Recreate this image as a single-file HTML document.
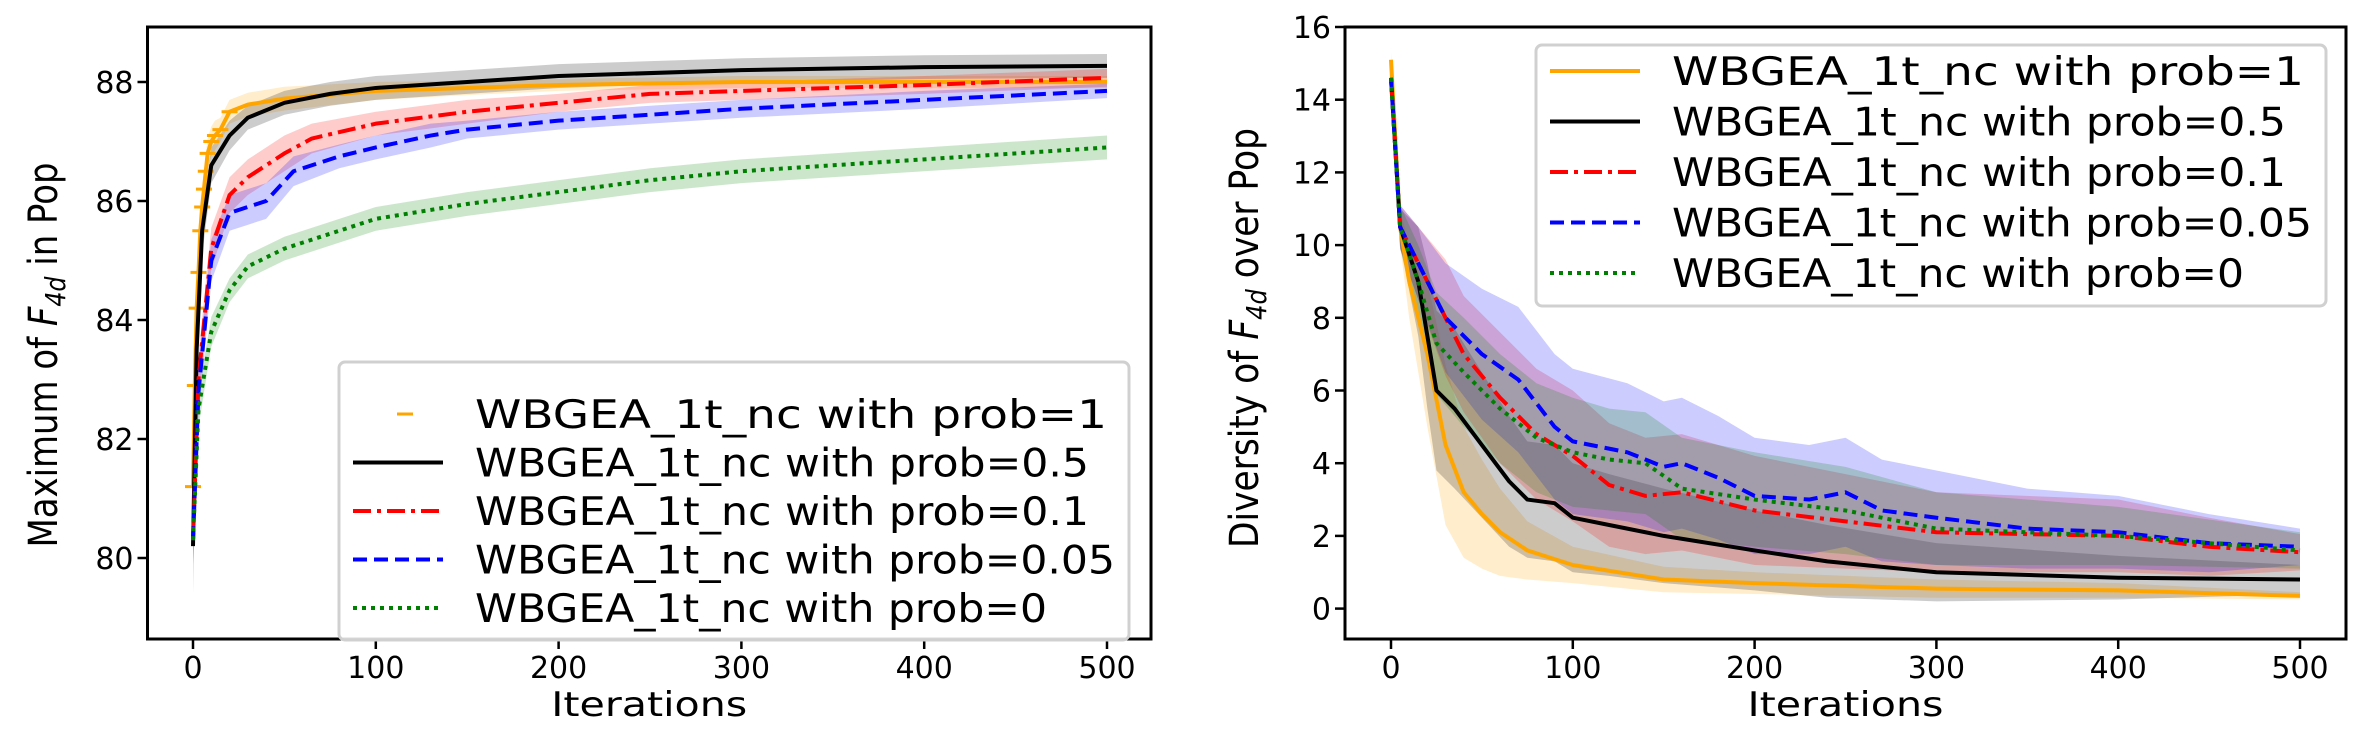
<!DOCTYPE html>
<html><head><meta charset="utf-8"><style>
html,body{margin:0;padding:0;background:#fff}
svg{display:block}
text{font-family:"DejaVu Sans","Liberation Sans",sans-serif;fill:#000}
</style></head><body>
<svg id="fig" width="2363" height="739" viewBox="0 0 2363 739" xmlns="http://www.w3.org/2000/svg">
<g id="left"></g>
<g id="right"></g>
</svg>
<script>
// ---------- LEFT CHART DATA ----------
const leftXTicks = [0,100,200,300,400,500];
const leftYTicks = [80,82,84,86,88];
const lX_p1 = [0,1,2,3,4,5,6,7,8,10,12,15,20,30,50,100,150,200,300,400,500];
const lY_p1 = [81.2,82.9,84.2,84.8,85.5,85.9,86.2,86.5,86.8,87.0,87.1,87.2,87.5,87.62,87.72,87.85,87.9,87.95,88.0,88.0,88.0];
const lS_p1 = [0.3,0.3,0.3,0.3,0.3,0.3,0.3,0.3,0.25,0.25,0.25,0.2,0.2,0.2,0.2,0.15,0.12,0.1,0.1,0.1,0.1];
const lX_p05 = [0,2,5,10,20,30,50,75,100,150,200,300,400,500];
const lY_p05 = [80.2,83.5,85.5,86.6,87.1,87.4,87.65,87.8,87.9,88.0,88.1,88.2,88.25,88.27];
const lS_p05 = [0.8,0.5,0.4,0.3,0.25,0.2,0.2,0.2,0.2,0.2,0.2,0.2,0.2,0.2];
const lX_p01 = [0,3,10,20,30,50,65,100,150,200,250,300,400,500];
const lY_p01 = [80.3,83.0,85.2,86.1,86.4,86.8,87.05,87.3,87.5,87.65,87.8,87.85,87.95,88.07];
const lS_p01 = [0.4,0.4,0.35,0.3,0.3,0.3,0.25,0.2,0.2,0.15,0.15,0.15,0.15,0.15];
const lX_p005 = [0,3,10,20,40,55,80,100,130,150,200,250,300,400,500];
const lY_p005 = [80.3,82.8,85.0,85.8,86.0,86.5,86.75,86.9,87.1,87.2,87.35,87.45,87.55,87.7,87.85];
const lS_p005 = [0.4,0.4,0.35,0.3,0.3,0.25,0.2,0.2,0.2,0.15,0.15,0.15,0.15,0.15,0.12];
const lX_p0 = [0,3,10,20,30,50,80,100,150,200,250,300,400,500];
const lY_p0 = [80.3,82.5,83.8,84.5,84.9,85.2,85.5,85.7,85.95,86.15,86.35,86.5,86.7,86.9];
const lS_p0 = [0.3,0.3,0.25,0.2,0.2,0.2,0.2,0.2,0.2,0.2,0.2,0.2,0.2,0.2];

// ---------- RIGHT CHART DATA ----------
const rightXTicks = [0,100,200,300,400,500];
const rightYTicks = [0,2,4,6,8,10,12,14,16];
const rX_p1 = [0,5,10,20,30,40,50,60,75,100,150,200,300,400,500];
const rY_p1 = [15.1,10.5,9.0,7.0,4.5,3.2,2.6,2.1,1.6,1.2,0.8,0.7,0.55,0.5,0.35];
const rS_p1 = [0.2,0.5,1.0,2.0,2.2,1.8,1.5,1.2,0.8,0.5,0.35,0.3,0.25,0.2,0.1];
const rX_p05 = [0,5,15,20,25,35,50,65,75,90,100,120,150,200,240,300,400,500];
const rY_p05 = [14.6,10.5,9.0,7.5,6.0,5.5,4.5,3.5,3.0,2.9,2.5,2.3,2.0,1.6,1.3,1.0,0.85,0.8];
const rS_p05 = [0.2,0.5,1.5,2.0,2.2,2.2,2.0,1.8,1.6,1.6,1.5,1.4,1.3,1.1,1.0,0.8,0.6,0.4];
const rX_p01 = [0,5,15,30,40,60,80,100,120,140,160,200,250,300,400,450,500];
const rY_p01 = [14.6,10.5,9.5,8.0,7.0,5.8,4.8,4.2,3.4,3.1,3.2,2.7,2.4,2.1,2.0,1.7,1.55];
const rS_p01 = [0.2,0.6,1.0,1.6,1.6,1.8,1.8,1.8,1.7,1.6,1.6,1.5,1.3,1.1,1.0,0.8,0.5];
const rX_p005 = [0,5,15,30,50,70,90,100,130,150,160,180,200,230,250,270,300,350,400,450,500];
const rY_p005 = [14.6,10.5,9.5,8.0,7.0,6.3,5.0,4.6,4.3,3.9,4.0,3.6,3.1,3.0,3.2,2.7,2.5,2.2,2.1,1.8,1.7];
const rS_p005 = [0.2,0.6,1.0,1.5,1.8,2.0,2.0,2.0,1.9,1.8,1.8,1.7,1.6,1.5,1.5,1.4,1.3,1.1,1.0,0.8,0.5];
const rX_p0 = [0,5,15,25,40,60,80,100,120,140,160,200,250,300,400,500];
const rY_p0 = [14.6,10.5,9.0,7.3,6.5,5.5,4.7,4.3,4.1,4.0,3.3,3.0,2.7,2.2,2.0,1.6];
const rS_p0 = [0.2,0.6,1.0,1.4,1.5,1.5,1.5,1.5,1.4,1.4,1.4,1.3,1.2,1.0,0.8,0.5];
const legendLabels = ["WBGEA_1t_nc with prob=1","WBGEA_1t_nc with prob=0.5","WBGEA_1t_nc with prob=0.1","WBGEA_1t_nc with prob=0.05","WBGEA_1t_nc with prob=0"];

const NS = "http://www.w3.org/2000/svg";
function mk(tag, attrs, parent){
  const e = document.createElementNS(NS, tag);
  for (const k in attrs) e.setAttribute(k, attrs[k]);
  parent.appendChild(e); return e;
}
const styles = [
  {c:"#ffa500", dash:"", band:"#ffa500"},
  {c:"#000000", dash:"", band:"#000000"},
  {c:"#ff0000", dash:"18,6,4,6", band:"#ff0000"},
  {c:"#0000ff", dash:"14,7", band:"#0000ff"},
  {c:"#008000", dash:"4,5", band:"#008000"}
];
const widths = [632,614,614,640,572];

function drawChart(g, cfg){
  const sx = v => cfg.x0 + (v - 0) * (cfg.x500 - cfg.x0) / 500;
  const sy = v => cfg.yA + (v - cfg.vA) * (cfg.yB - cfg.yA) / (cfg.vB - cfg.vA);
  cfg.series.forEach((s, i) => {
    let pts = s.x.map((x,j)=> sx(x)+","+sy(s.y[j]+s.s[j]));
    for (let j=s.x.length-1;j>=0;j--) pts.push(sx(s.x[j])+","+sy(s.y[j]-s.s[j]));
    const b = mk("polygon",{points:pts.join(" "),fill:styles[i].band,"fill-opacity":"0.2",stroke:"none"},g);
    
    
  });
  cfg.series.forEach((s, i) => {
    const pts = s.x.map((x,j)=> sx(x)+","+sy(s.y[j])).join(" ");
    const attrs = {points:pts,fill:"none",stroke:styles[i].c,"stroke-width":"4","stroke-linejoin":"round"};
    if (styles[i].dash) attrs["stroke-dasharray"] = styles[i].dash;
    const l = mk("polyline",attrs,g);
    
    
    if (cfg.markerFirst && i===0) {
      s.x.forEach((x,j)=>{
        if (x <= 20) {
          const m = mk("line",{x1:sx(x)-8,x2:sx(x)+8,y1:sy(s.y[j]),y2:sy(s.y[j]),stroke:styles[0].c,"stroke-width":"3"},g);
          
          
        }
      });
    }
  });
  const box = mk("rect",{x:cfg.L,y:cfg.T,width:cfg.R-cfg.L,height:cfg.B-cfg.T,fill:"none",stroke:"#000","stroke-width":"3"},g);
  
  
  cfg.xt.forEach(t=>{
    const tk = mk("line",{x1:sx(t),x2:sx(t),y1:cfg.B,y2:cfg.B+10,stroke:"#000","stroke-width":"2.5"},g);
    
    
    const tl = mk("text",{x:sx(t),y:cfg.B+39,"font-size":"30","text-anchor":"middle"},g);
    tl.textContent = t;
    
    
  });
  cfg.yt.forEach(t=>{
    const tk = mk("line",{x1:cfg.L-10,x2:cfg.L,y1:sy(t),y2:sy(t),stroke:"#000","stroke-width":"2.5"},g);
    
    
    const tl = mk("text",{x:cfg.L-14,y:sy(t)+11,"font-size":"30","text-anchor":"end"},g);
    tl.textContent = t;
    
    
  });
  const xl = mk("text",{x:(cfg.L+cfg.R)/2 - 98,y:716,"font-size":"34",textLength:"196",lengthAdjust:"spacingAndGlyphs"},g);
  xl.textContent = "Iterations";
  
  
  const yl = mk("text",{x:-cfg.ylLen/2,y:0,"font-size":"40",textLength:cfg.ylLen,lengthAdjust:"spacingAndGlyphs",transform:`translate(${cfg.ylx},${cfg.yly}) rotate(-90)`},g);
  
  
  const a = mk("tspan",{},yl); a.textContent = cfg.ylA + " ";
  const f = mk("tspan",{"font-style":"italic"},yl); f.textContent = "F";
  const sub = mk("tspan",{"font-style":"italic","font-size":"28",dy:"8"},yl); sub.textContent = "4d";
  const b2 = mk("tspan",{dy:"-8"},yl); b2.textContent = " " + cfg.ylB;
  const lg = mk("g",{},g);
  
  
  mk("rect",{x:cfg.lgX,y:cfg.lgY,width:cfg.lgW,height:cfg.lgH,rx:"6",fill:"#fff","fill-opacity":"0.85",stroke:"#d0d0d0","stroke-width":"3"},lg);
  legendLabels.forEach((lab,i)=>{
    const cy = cfg.lgY + cfg.rowOff + i*cfg.rowSp;
    const e = mk("g",{},lg);
    
    
    if (cfg.markerFirst && i===0) {
      mk("line",{x1:cfg.lgX+58,x2:cfg.lgX+74,y1:cy,y2:cy,stroke:styles[0].c,"stroke-width":"3"},e);
    } else {
      const at = {x1:cfg.lgX+14,x2:cfg.lgX+104,y1:cy,y2:cy,stroke:styles[i].c,"stroke-width":"4"};
      if (styles[i].dash) at["stroke-dasharray"] = styles[i].dash;
      mk("line",at,e);
    }
    const t = mk("text",{x:cfg.lgX+136,y:cy+14,"font-size":"39",textLength:widths[i],lengthAdjust:"spacingAndGlyphs"},e);
    t.textContent = lab;
  });
}

const mkSeries = (names, xs, ys, ss) => names.map((n,i)=>({name:n,x:xs[i],y:ys[i],s:ss[i]}));
const names = ["prob-1","prob-0-5","prob-0-1","prob-0-05","prob-0"];

drawChart(document.getElementById("left"), {
  L:147.5,R:1151,T:27,B:639,x0:193,x500:1107,yA:558,vA:80,yB:82,vB:88,
  xt:leftXTicks, yt:leftYTicks, markerFirst:true,
  series: mkSeries(names,[lX_p1,lX_p05,lX_p01,lX_p005,lX_p0],[lY_p1,lY_p05,lY_p01,lY_p005,lY_p0],[lS_p1,lS_p05,lS_p01,lS_p005,lS_p0]),
  ylx:57, yly:355, ylLen:385, ylA:"Maximum of", ylB:"in Pop",
  lgX:339, lgY:362, lgW:790, lgH:278, rowOff:52, rowSp:48.5
});
drawChart(document.getElementById("right"), {
  L:1345,R:2346,T:27,B:639,x0:1391,x500:2300,yA:608.6,vA:0,yB:27,vB:16,
  xt:rightXTicks, yt:rightYTicks, markerFirst:false,
  series: mkSeries(names,[rX_p1,rX_p05,rX_p01,rX_p005,rX_p0],[rY_p1,rY_p05,rY_p01,rY_p005,rY_p0],[rS_p1,rS_p05,rS_p01,rS_p005,rS_p0]),
  ylx:1258, yly:338, ylLen:420, ylA:"Diversity of", ylB:"over Pop",
  lgX:1536, lgY:45, lgW:790, lgH:261, rowOff:26, rowSp:50.5
});
</script>
</body></html>
